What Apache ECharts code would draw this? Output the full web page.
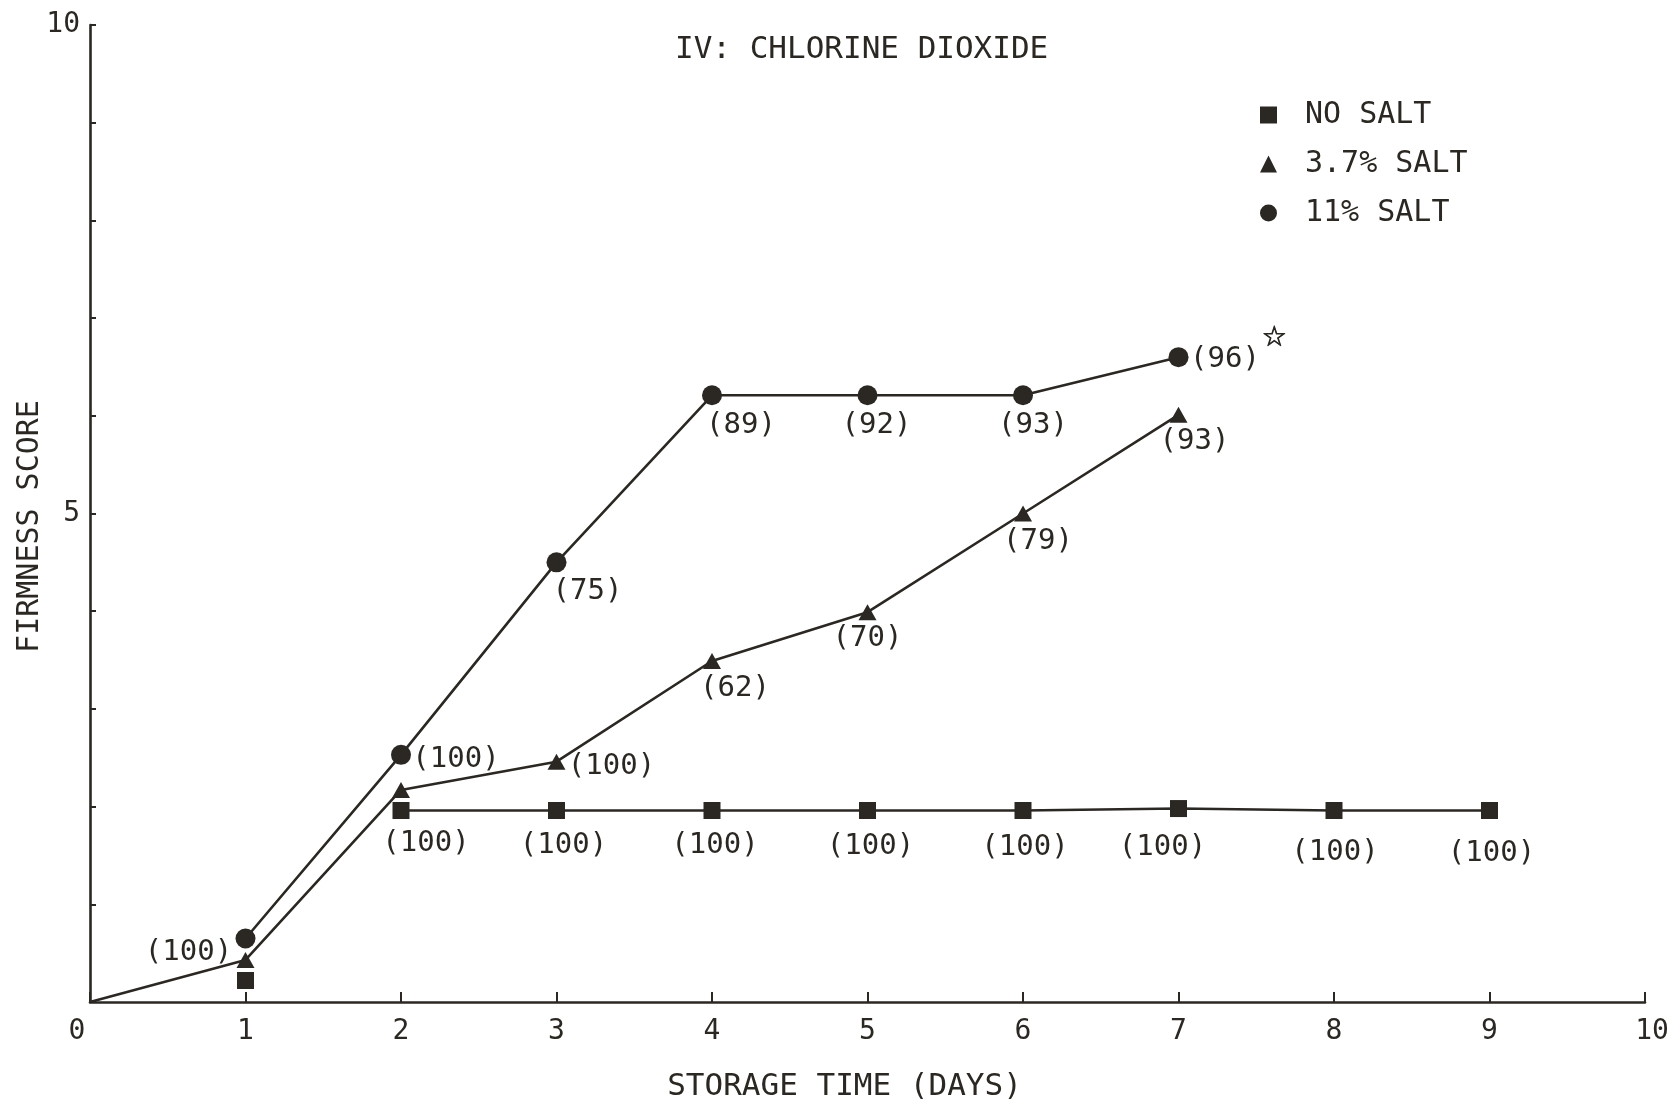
<!DOCTYPE html>
<html>
<head>
<meta charset="utf-8">
<title>IV: Chlorine Dioxide — Firmness Score</title>
<script src="https://cdn.jsdelivr.net/npm/echarts@6/dist/echarts.min.js"></script>
<style>
  html, body { margin: 0; padding: 0; background: #ffffff; }
  #chart { width: 1675px; height: 1102px; }
</style>
</head>
<body>
<div id="chart"></div>
<script>
// Storage days sampled for each brine
const days = [1, 2, 3, 4, 5, 6, 7, 8, 9];

// Firmness scores
const noSalt  = [0.22, 1.96, 1.96, 1.96, 1.96, 1.96, 1.98, 1.96, 1.96];  // days 1-9
const salt37  = [0.43, 2.17, 2.46, 3.49, 3.99, 5.0, 6.01];              // days 1-7
const salt11  = [0.65, 2.53, 4.50, 6.21, 6.21, 6.21, 6.60];             // days 1-7
const startPoint = [0, 0];                                               // curves start at day 0

// Percent figures printed beside the points ('' = none printed)
const noSaltPct = ['', '(100)', '(100)', '(100)', '(100)', '(100)', '(100)', '(100)', '(100)'];
const salt37Pct = ['(100)', '', '(100)', '(62)', '(70)', '(79)', '(93)'];
const salt11Pct = ['', '(100)', '(75)', '(89)', '(92)', '(93)', '(96)'];
const footnoteMark = '\u2606';   // star after the last 11% reading

// Axis ticks
const xTicks = [0, 1, 2, 3, 4, 5, 6, 7, 8, 9, 10];
const yLabelled = [5, 10];

// Where each percent figure sits relative to its marker (px)
const noSaltShift = [null, [25, 33], [7, 35], [3, 35], [3, 36], [2, 37], [-16, 39], [1, 42], [2, 43]];
const salt37Shift = [[-57, -8], null, [55, 5], [23, 27], [0, 26], [15, 28], [16, 27]];
const salt11Shift = [null, [55, 5], [31, 29], [29, 30], [9, 30], [10, 30], [60, 2]];

const INK = '#2b2723';
const FONT = '"DejaVu Sans Mono", "Liberation Mono", monospace';

function points(values) {
  return values.map((v, i) => [days[i], v]);
}

function labelled(values, pct, shift, extra) {
  return values.map((v, i) => {
    const item = { value: [days[i], v] };
    if (pct[i]) {
      const mark = extra && extra[i] ? '{star|' + extra[i] + '}' : '';
      item.label = {
        show: true,
        position: 'inside',
        offset: shift[i],
        formatter: pct[i] + mark
      };
    }
    return item;
  });
}

const pctLabel = {
  show: false,
  color: INK,
  fontFamily: FONT,
  fontSize: 29,
  rich: {
    star: {
      fontFamily: '"DejaVu Sans", sans-serif',
      fontSize: 28,
      fontWeight: 'bold',
      color: INK,
      textBorderColor: INK,
      textBorderWidth: 0.8,
      padding: [0, 0, 40, 2]
    }
  }
};

const salt11Extra = salt11Pct.map((_, i) => (i === salt11Pct.length - 1 ? footnoteMark : ''));

const lineStyle = { color: INK, width: 2.6 };

const chart = echarts.init(document.getElementById('chart'), null, { renderer: 'canvas' });

chart.setOption({
  backgroundColor: '#ffffff',
  animation: false,
  title: {
    text: 'IV: CHLORINE DIOXIDE',
    left: 670,
    top: 29,
    textStyle: { color: INK, fontFamily: FONT, fontSize: 31, fontWeight: 'normal' }
  },
  legend: {
    orient: 'vertical',
    left: 1255,
    top: 95,
    itemWidth: 17,
    itemHeight: 17,
    itemGap: 19,
    data: ['NO SALT', '3.7% SALT', '11% SALT'],
    textStyle: {
      color: INK, fontFamily: FONT, fontSize: 30, lineHeight: 30,
      padding: [0, 0, 0, 23]
    }
  },
  grid: { left: 90, right: 30, top: 25, bottom: 100, outerBoundsMode: 'none', containLabel: false },
  xAxis: {
    type: 'value',
    min: 0, max: 10, interval: 1,
    name: 'STORAGE TIME (DAYS)',
    nameLocation: 'middle',
    nameGap: 69,
    nameTextStyle: { color: INK, fontFamily: FONT, fontSize: 31, padding: [0, 46, 0, 0] },
    axisLine: { show: true, onZero: false, lineStyle: { color: INK, width: 2.6 } },
    axisTick: { show: true, inside: true, length: 10, lineStyle: { color: INK, width: 2 } },
    splitLine: { show: false },
    axisLabel: {
      color: INK, fontFamily: FONT, fontSize: 28, margin: 16,
      showMinLabel: true, showMaxLabel: true,
      formatter: v => {
        if (!xTicks.includes(v)) return '';
        if (v === 0) return '{lo|0}';
        if (v === 10) return '{hi|10}';
        return String(v);
      },
      rich: {
        lo: { fontFamily: FONT, fontSize: 28, color: INK, padding: [0, 26, 0, 0] },
        hi: { fontFamily: FONT, fontSize: 28, color: INK, padding: [0, 0, 0, 14] }
      }
    }
  },
  yAxis: {
    type: 'value',
    min: 0, max: 10, interval: 1,
    name: 'FIRMNESS SCORE',
    nameLocation: 'middle',
    nameGap: 45,
    nameMoveOverlap: false,
    nameRotate: 90,
    nameTextStyle: { color: INK, fontFamily: FONT, fontSize: 30, padding: [0, 26, 0, 0] },
    axisLine: { show: true, onZero: false, lineStyle: { color: INK, width: 2.6 } },
    axisTick: { show: true, inside: true, length: 6, lineStyle: { color: INK, width: 2 } },
    splitLine: { show: false },
    axisLabel: {
      color: INK, fontFamily: FONT, fontSize: 28, margin: 10,
      showMinLabel: true, showMaxLabel: true,
      formatter: v => (yLabelled.includes(v) ? String(v) : '')
    }
  },
  series: [
    // connecting lines
    {
      name: 'no-salt-path', type: 'line', silent: true, symbol: 'none',
      data: points(noSalt).slice(1), lineStyle, z: 2
    },
    {
      name: '3.7-path', type: 'line', silent: true, symbol: 'none',
      data: [startPoint].concat(points(salt37)), lineStyle, z: 2
    },
    {
      name: '11-path', type: 'line', silent: true, symbol: 'none',
      data: points(salt11), lineStyle, z: 2
    },
    // markers with percent figures
    {
      name: 'NO SALT', type: 'scatter', symbol: 'rect', symbolSize: 17,
      itemStyle: { color: INK, opacity: 1 },
      label: pctLabel,
      data: labelled(noSalt, noSaltPct, noSaltShift), z: 5
    },
    {
      name: '3.7% SALT', type: 'scatter', symbol: 'triangle', symbolSize: [18, 16],
      itemStyle: { color: INK, opacity: 1 },
      label: pctLabel,
      data: labelled(salt37, salt37Pct, salt37Shift), z: 5
    },
    {
      name: '11% SALT', type: 'scatter', symbol: 'circle', symbolSize: 20,
      itemStyle: { color: INK, opacity: 1 },
      label: pctLabel,
      data: labelled(salt11, salt11Pct, salt11Shift, salt11Extra), z: 5
    }
  ]
});
</script>
</body>
</html>
